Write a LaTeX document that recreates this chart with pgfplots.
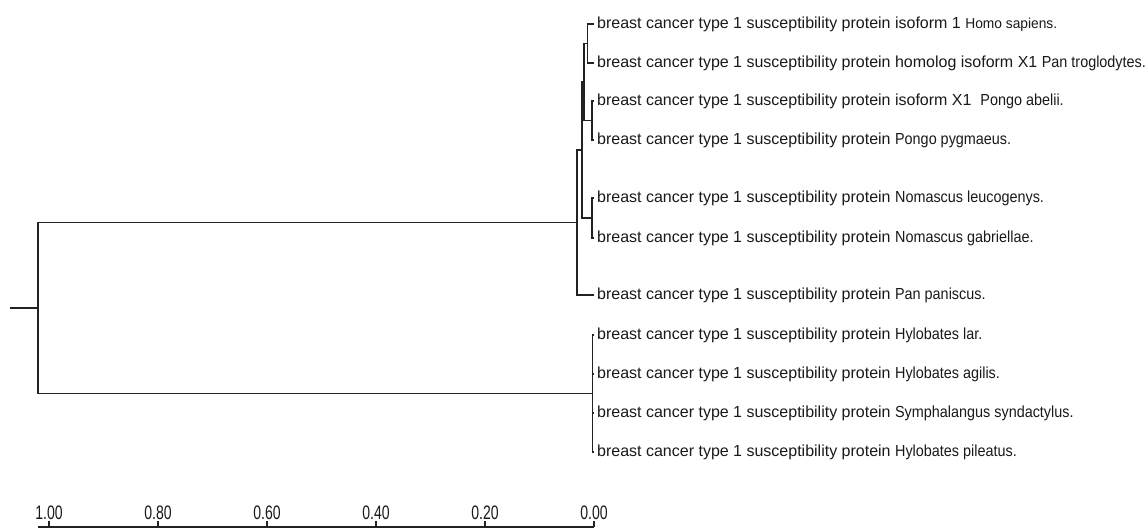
\documentclass[border=0pt]{standalone}
\usepackage{fontspec}
\setmainfont{Liberation Sans}
\usepackage{graphicx}
\usepackage{pgfplots}
\pgfplotsset{compat=1.18}
\definecolor{treeline}{HTML}{222222}
\newcommand{\spn}[1]{\scalebox{0.9}[1]{#1}}
\newcommand{\tl}[1]{\scalebox{0.72}[1]{#1}}
\begin{document}
\begin{tikzpicture}
\path[use as bounding box] (0bp,0bp) rectangle (1147bp,532bp);
\begin{axis}[
  anchor=north east, at={(594bp,532bp)},
  x=545bp, y=1bp,
  xmin=0, xmax=1.072, x dir=reverse,
  ymin=0, ymax=532, y dir=reverse,
  axis line style={draw=none},
  xtick=\empty,
  ytick={24,63,101,140,198,238,295,335,374,413,452},
  yticklabels={
    {breast cancer type 1 susceptibility protein isoform 1 \scalebox{0.86}[0.9]{Homo sapiens.}},
    {breast cancer type 1 susceptibility protein homolog isoform X1 \spn{Pan troglodytes.}},
    {breast cancer type 1 susceptibility protein isoform X1 \ \spn{Pongo abelii.}},
    {breast cancer type 1 susceptibility protein \spn{Pongo pygmaeus.}},
    {breast cancer type 1 susceptibility protein \spn{Nomascus leucogenys.}},
    {breast cancer type 1 susceptibility protein \spn{Nomascus gabriellae.}},
    {breast cancer type 1 susceptibility protein \spn{Pan paniscus.}},
    {breast cancer type 1 susceptibility protein \spn{Hylobates lar.}},
    {breast cancer type 1 susceptibility protein \spn{Hylobates agilis.}},
    {breast cancer type 1 susceptibility protein \spn{Symphalangus syndactylus.}},
    {breast cancer type 1 susceptibility protein \spn{Hylobates pileatus.}}
  },
  yticklabel pos=right,
  major tick length=0pt,
  y tick label style={anchor=west, inner sep=0pt, xshift=3bp, text=black!90,
    font=\fontsize{16bp}{17bp}\selectfont},
  clip=false,
  br/.style={line width=1.4bp, color=treeline, solid, no markers, line join=miter},
]
% (L1,L2)
\addplot[br] coordinates {(0,24) (0.012,24) (0.012,63) (0,63)};
% (L3,L4)
\addplot[br] coordinates {(0,101) (0.004,101) (0.004,140) (0,140)};
% ((L1,L2),(L3,L4))
\addplot[br] coordinates {(0.012,43.5) (0.018,43.5) (0.018,120.5) (0.004,120.5)};
% (L5,L6)
\addplot[br] coordinates {(0,198) (0.004,198) (0.004,238) (0,238)};
% (((L1,L2),(L3,L4)),(L5,L6))
\addplot[br] coordinates {(0.018,82) (0.022,82) (0.022,218) (0.004,218)};
% (... , L7)
\addplot[br] coordinates {(0.022,150) (0.031,150) (0.031,295) (0,295)};
% Hylobates polytomy
\addplot[br] coordinates {(0,335) (0.003,335) (0.003,452) (0,452)};
\addplot[br] coordinates {(0,374) (0.003,374)};
\addplot[br] coordinates {(0,413) (0.003,413)};
% root
\addplot[br] coordinates {(0.031,222.5) (1.02,222.5) (1.02,393.5) (0.003,393.5)};
\addplot[br] coordinates {(1.072,308) (1.02,308)};
\end{axis}
\begin{axis}[
  anchor=north east, at={(594bp,5bp)},
  x=545bp, y=1bp,
  xmin=0, xmax=1.02, x dir=reverse,
  ymin=0, ymax=1,
  axis x line=top, axis y line=none,
  x axis line style={-, line width=1.3bp, color=treeline},
  xtick={0,0.2,0.4,0.6,0.8,1},
  xticklabels={\tl{0.00},\tl{0.20},\tl{0.40},\tl{0.60},\tl{0.80},\tl{1.00}},
  tick align=outside, major tick length=5.5bp,
  tick style={line width=1.3bp, color=treeline},
  xticklabel style={inner sep=1.5bp, text=black!90, font=\fontsize{19.5bp}{20bp}\selectfont},
  clip=false,
]
\addplot[draw=none] coordinates {(0,0.5)};
\end{axis}
\end{tikzpicture}
\end{document}
